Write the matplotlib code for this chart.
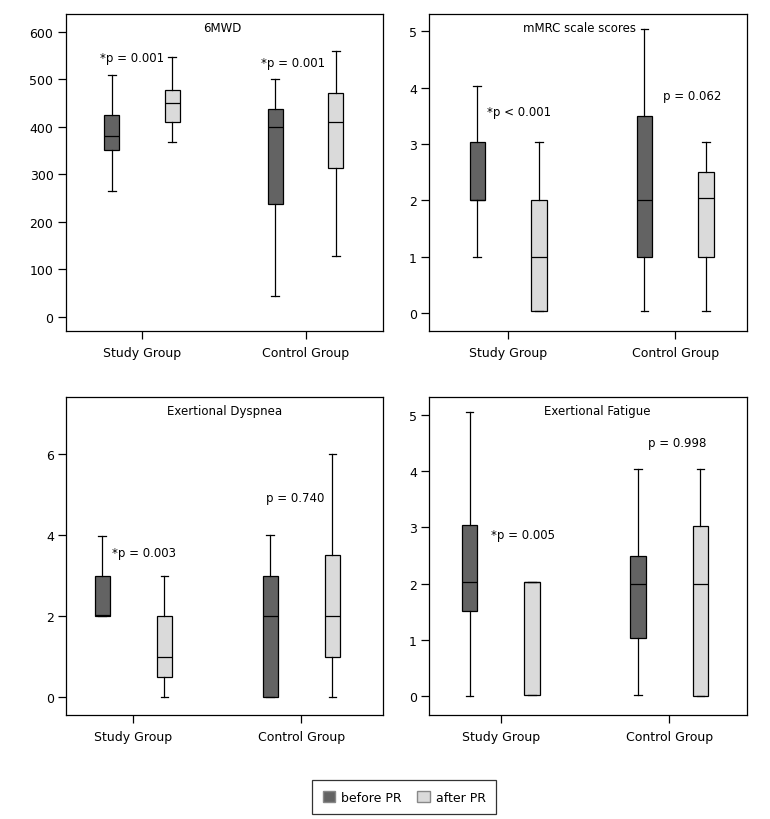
import matplotlib
matplotlib.use("Agg")
import matplotlib.pyplot as plt
from matplotlib.patches import Patch

# box statistics: [whislo, q1, med, q3, whishi]
groups = ["Study Group", "Control Group"]
series = ["before PR", "after PR"]

mwd_study_before = [264, 350, 380, 424, 508]
mwd_study_after = [368, 409, 449, 477, 546]
mwd_control_before = [43, 237, 400, 438, 501]
mwd_control_after = [127, 312, 409, 471, 559]

mmrc_study_before = [1.0, 2.0, 2.0, 3.03, 4.03]
mmrc_study_after = [0.03, 0.03, 1.0, 2.0, 3.03]
mmrc_control_before = [0.03, 1.0, 2.0, 3.5, 5.05]
mmrc_control_after = [0.03, 1.0, 2.04, 2.5, 3.03]

dysp_study_before = [2.0, 2.0, 2.04, 3.0, 3.97]
dysp_study_after = [0.0, 0.5, 1.0, 2.0, 3.0]
dysp_control_before = [0.0, 0.0, 2.0, 3.0, 4.0]
dysp_control_after = [0.0, 1.0, 2.0, 3.5, 6.0]

fat_study_before = [0.0, 1.51, 2.04, 3.04, 5.05]
fat_study_after = [0.02, 0.02, 2.04, 2.04, 2.04]
fat_control_before = [0.02, 1.03, 2.0, 2.5, 4.03]
fat_control_after = [0.0, 0.0, 2.0, 3.02, 4.03]

titles = ["6MWD", "mMRC scale scores", "Exertional Dyspnea", "Exertional Fatigue"]
p_study = ["*p = 0.001", "*p < 0.001", "*p = 0.003", "*p = 0.005"]
p_control = ["*p = 0.001", "p = 0.062", "p = 0.740", "p = 0.998"]

panel_data = [
    [mwd_study_before, mwd_study_after, mwd_control_before, mwd_control_after],
    [mmrc_study_before, mmrc_study_after, mmrc_control_before, mmrc_control_after],
    [dysp_study_before, dysp_study_after, dysp_control_before, dysp_control_after],
    [fat_study_before, fat_study_after, fat_control_before, fat_control_after],
]

# layout per panel
axes_rects = [
    [0.0857, 0.5951, 0.4117, 0.3866],
    [0.5575, 0.5951, 0.4130, 0.3866],
    [0.0861, 0.1268, 0.4117, 0.3875],
    [0.5575, 0.1268, 0.4130, 0.3875],
]
xlims = [(0.535, 2.474), (0.528, 2.431), (0.601, 2.488), (0.576, 2.463)]
ylims = [(-30, 637), (-0.32, 5.31), (-0.435, 7.39), (-0.33, 5.31)]
yticks = [range(0, 601, 100), range(0, 6), range(0, 7, 2), range(0, 6)]
title_x = [0.492, 0.471, 0.50, 0.528]
p_study_pos = [(0.743, 545), (0.871, 3.57), (0.873, 3.57), (0.942, 2.87)]
p_control_pos = [(1.728, 536), (1.926, 3.86), (1.79, 4.91), (1.872, 4.51)]

colors = ["#636363", "#dadada"]
d = 0.185
positions = [1 - d, 1 + d, 2 - d, 2 + d]

fig = plt.figure(figsize=(7.7, 8.2), dpi=100)

for i in range(4):
    ax = fig.add_axes(axes_rects[i])
    stats = []
    for vals in panel_data[i]:
        lo, q1, med, q3, hi = vals
        stats.append({"whislo": lo, "q1": q1, "med": med, "q3": q3,
                      "whishi": hi, "fliers": []})
    bp = ax.bxp(stats, positions=positions, widths=0.092, patch_artist=True,
                showfliers=False,
                boxprops=dict(linewidth=0.9, edgecolor="black"),
                medianprops=dict(color="black", linewidth=0.9),
                whiskerprops=dict(color="black", linewidth=0.9),
                capprops=dict(color="black", linewidth=0.9))
    for j, box in enumerate(bp["boxes"]):
        box.set_facecolor(colors[j % 2])

    ax.set_xlim(*xlims[i])
    ax.set_ylim(*ylims[i])
    ax.set_xticks([1, 2])
    ax.set_xticklabels(groups, fontsize=9)
    ax.set_yticks(list(yticks[i]))
    ax.tick_params(axis="both", direction="out", length=6, width=0.9,
                   labelsize=9, pad=3)
    ax.tick_params(axis="x", pad=5)
    for s in ax.spines.values():
        s.set_linewidth(0.9)

    ax.text(title_x[i], 0.958, titles[i], transform=ax.transAxes,
            ha="center", va="center", fontsize=8.5)
    ax.text(p_study_pos[i][0], p_study_pos[i][1], p_study[i],
            ha="left", va="center", fontsize=8.5)
    ax.text(p_control_pos[i][0], p_control_pos[i][1], p_control[i],
            ha="left", va="center", fontsize=8.5)

handles = [Patch(facecolor=colors[0], edgecolor="#888888", label=series[0]),
           Patch(facecolor=colors[1], edgecolor="#888888", label=series[1])]
leg = fig.legend(handles=handles, loc="center", bbox_to_anchor=(0.525, 0.0268),
                 ncol=2, fontsize=9, frameon=True, fancybox=False,
                 handlelength=1.0, handleheight=1.0, handletextpad=0.5,
                 columnspacing=1.2, borderpad=0.85)
leg.get_frame().set_edgecolor("black")
leg.get_frame().set_linewidth(0.9)

fig.savefig("out.png", dpi=100)
